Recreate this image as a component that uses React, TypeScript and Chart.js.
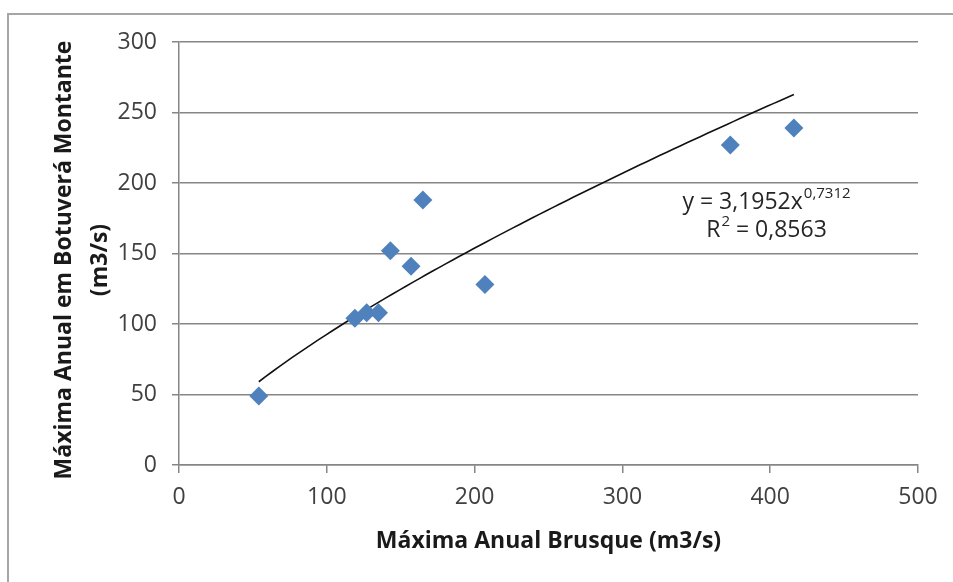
import React, { useEffect, useRef } from 'react';
import { Chart, registerables } from 'chart.js';

Chart.register(...registerables);

// Data
const brusque = [54, 119, 127, 135, 143, 157, 165, 207, 373, 416];
const botuvera = [49, 104, 108, 108, 152, 141, 188, 128, 227, 239];

const xTickValues = [0, 100, 200, 300, 400, 500];
const yTickValues = [0, 50, 100, 150, 200, 250, 300];

// Power trendline shown on the chart: y = 3,1952 x^0,7312
const fitCoef = 3.1952;
const fitExp = 0.7312;

const eqMain = 'y = 3,1952x';
const eqSup = '0,7312';
const r2Base = 'R';
const r2Sup = '2';
const r2Rest = ' = 0,8563';

const xTitle = 'Máxima Anual Brusque (m3/s)';
const yTitleLines = ['Máxima Anual em Botuverá Montante', '(m3/s)'];

const FONT = '"Open Sans", "Liberation Sans", sans-serif';

const overlayPlugin = {
  id: 'overlay',
  beforeDraw(chart: any) {
    const ctx = chart.ctx;
    ctx.save();
    ctx.fillStyle = '#ffffff';
    ctx.fillRect(0, 0, chart.width, chart.height);
    ctx.strokeStyle = '#a6a6a6';
    ctx.lineWidth = 2;
    ctx.beginPath();
    ctx.moveTo(8, chart.height);
    ctx.lineTo(8, 14);
    ctx.lineTo(chart.width, 14);
    ctx.stroke();
    ctx.restore();
  },
  afterDraw(chart: any) {
    const ctx = chart.ctx;
    const area = chart.chartArea;
    ctx.save();
    ctx.fillStyle = '#1a1a1a';
    // x axis title
    ctx.font = `bold 23px ${FONT}`;
    ctx.textAlign = 'center';
    ctx.textBaseline = 'middle';
    ctx.fillText(xTitle, (area.left + area.right) / 2, 541);
    // y axis title (rotated, two lines)
    ctx.save();
    ctx.translate(64, 260);
    ctx.rotate(-Math.PI / 2);
    ctx.fillText(yTitleLines[0], 0, 0);
    ctx.fillText(yTitleLines[1], 0, 36);
    ctx.restore();

    // trendline equation
    ctx.fillStyle = '#262626';
    ctx.textAlign = 'left';
    ctx.textBaseline = 'alphabetic';
    const big = `23px ${FONT}`;
    const small = `15px ${FONT}`;
    ctx.font = big;
    const w1 = ctx.measureText(eqMain).width;
    ctx.font = small;
    const w1s = ctx.measureText(eqSup).width;
    const x1 = 766 - (w1 + w1s) / 2;
    ctx.font = big;
    ctx.fillText(eqMain, x1, 209);
    ctx.font = small;
    ctx.fillText(eqSup, x1 + w1 + 1, 198);

    ctx.font = big;
    const wR = ctx.measureText(r2Base).width;
    const wRest = ctx.measureText(r2Rest).width;
    ctx.font = small;
    const wSup = ctx.measureText(r2Sup).width;
    const x2 = 766 - (wR + wSup + wRest) / 2;
    ctx.font = big;
    ctx.fillText(r2Base, x2, 237);
    ctx.font = small;
    ctx.fillText(r2Sup, x2 + wR + 1, 226);
    ctx.font = big;
    ctx.fillText(r2Rest, x2 + wR + wSup + 1, 237);
    ctx.restore();
  },
};

export default function App() {
  const canvasRef = useRef<HTMLCanvasElement | null>(null);

  useEffect(() => {
    const canvas = canvasRef.current;
    if (!canvas) return;

    const minX = Math.min(...brusque);
    const maxX = Math.max(...brusque);
    const steps = 80;
    const trend: { x: number; y: number }[] = [];
    for (let i = 0; i <= steps; i++) {
      const x = minX + ((maxX - minX) * i) / steps;
      trend.push({ x, y: fitCoef * Math.pow(x, fitExp) });
    }

    const points = brusque.map((x, i) => ({ x, y: botuvera[i] }));

    const chart = new Chart(canvas, {
      type: 'scatter',
      data: {
        datasets: [
          {
            type: 'line',
            label: 'Potência',
            data: trend,
            borderColor: '#111111',
            borderWidth: 1.6,
            pointRadius: 0,
            fill: false,
            tension: 0,
            order: 2,
          } as any,
          {
            label: 'Máxima Anual',
            data: points,
            pointStyle: 'rectRot',
            pointRadius: 9.5,
            pointHoverRadius: 9.5,
            backgroundColor: '#4f81bd',
            borderColor: '#4f81bd',
            borderWidth: 0,
            order: 1,
          },
        ],
      },
      options: {
        responsive: false,
        animation: false,
        layout: { padding: { left: 0, right: 35, top: 42, bottom: 0 } },
        plugins: {
          legend: { display: false },
          tooltip: { enabled: false },
          title: { display: false },
        },
        scales: {
          x: {
            type: 'linear',
            min: 0,
            max: 500,
            afterFit(scale: any) {
              scale.height = 117;
            },
            afterBuildTicks(scale: any) {
              scale.ticks = xTickValues.map((v) => ({ value: v }));
            },
            ticks: {
              font: { family: FONT, size: 23 },
              color: '#404040',
              padding: 11,
              maxRotation: 0,
            },
            grid: {
              drawOnChartArea: false,
              drawTicks: true,
              tickLength: 8,
              color: '#868686',
              lineWidth: 1.5,
            },
            border: { display: true, color: '#868686', width: 1.5 },
          },
          y: {
            type: 'linear',
            min: 0,
            max: 300,
            afterFit(scale: any) {
              scale.width = 179;
            },
            afterBuildTicks(scale: any) {
              scale.ticks = yTickValues.map((v) => ({ value: v }));
            },
            ticks: {
              font: { family: FONT, size: 23 },
              color: '#404040',
              padding: 15,
            },
            grid: {
              drawOnChartArea: true,
              drawTicks: true,
              tickLength: 7,
              color: '#868686',
              lineWidth: 1.5,
            },
            border: { display: true, color: '#868686', width: 1.5 },
          },
        },
      },
      plugins: [overlayPlugin],
    });

    return () => {
      chart.destroy();
    };
  }, []);

  return (
    <div style={{ position: 'absolute', left: 0, top: 0, width: 953, height: 582 }}>
      <canvas ref={canvasRef} width={953} height={582} style={{ display: 'block' }} />
    </div>
  );
}
